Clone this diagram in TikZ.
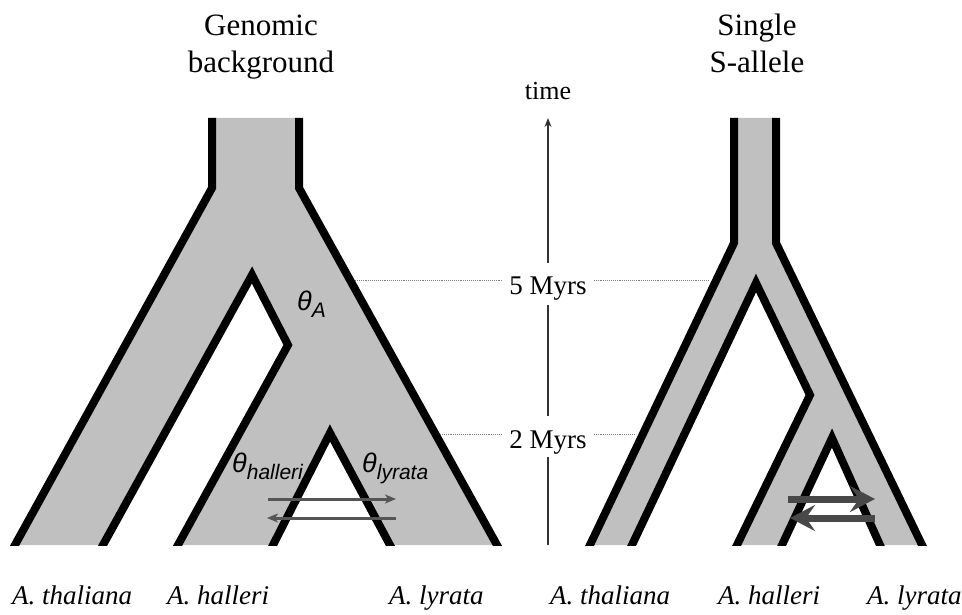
\documentclass[tikz,border=0pt]{standalone}
\usepackage{fontspec}
\setmainfont{Liberation Serif}
\newfontfamily\thetafont{Liberation Sans}
\usepackage{xcolor}
\usetikzlibrary{positioning, arrows.meta}
\definecolor{branchgray}{RGB}{192, 192, 192}
\definecolor{flowgray}{RGB}{85, 85, 85}
\definecolor{axisgray}{RGB}{51, 51, 51}
\newcommand{\thetasub}[1]{θ\raisebox{-0.26em}{\fontsize{21}{21}\selectfont #1}}

\begin{document}
\begin{tikzpicture}[
    x=1pt, y=-1pt,
    treefill/.style={fill=branchgray},
    treeedge/.style={line width=8pt, black, miter limit=10},
    geneflow/.style={-{Stealth[length=11pt, width=9pt, inset=3pt]}, line width=3pt, flowgray},
    bigflow/.style={-{Stealth[length=25pt, width=26pt, inset=9pt]}, line width=7pt, flowgray!85!black},
    timeaxis/.style={line width=1.2pt, axisgray},
    guide/.style={densely dotted, line width=0.9pt, gray},
    title/.style={font=\fontsize{31}{37}\selectfont, anchor=base, inner sep=0pt},
    species/.style={font=\fontsize{27}{32}\selectfont\itshape, anchor=base west, inner sep=0pt},
    myr/.style={font=\fontsize{27}{32}\selectfont, anchor=base, inner xsep=7pt, inner ysep=3pt},
    theta/.style={font=\thetafont\itshape\fontsize{27}{32}\selectfont, anchor=base west, inner sep=0pt}
]
    \useasboundingbox (0,0) rectangle (962,615);

    % Genomic background tree
    \fill[treefill] (212,118) -- (212,188) -- (15,545) -- (103,545) -- (252,275) -- (288,345)
        -- (178,545) -- (273,545) -- (330,433) -- (390,545) -- (497,545) -- (299,188) -- (299,118) -- cycle;

    % Single S-allele tree
    \fill[treefill] (734,118) -- (734,243) -- (590,545) -- (632,545) -- (756,283) -- (810,395)
        -- (737,545) -- (782,545) -- (832,438) -- (880,545) -- (922,545) -- (776,243) -- (776,118) -- cycle;

    % Branch outlines
    \begin{scope}
        \clip (0,0) rectangle (962,545);
        \draw[treeedge] (212,118) -- (212,188) -- (6.7,560);
        \draw[treeedge] (94.7,560) -- (252,275) -- (288,345) -- (169.7,560);
        \draw[treeedge] (265.4,560) -- (330,433) -- (398,560);
        \draw[treeedge] (299,118) -- (299,188) -- (505.3,560);
        \draw[treeedge] (734,118) -- (734,243) -- (582.8,560);
        \draw[treeedge] (624.9,560) -- (756,283) -- (810,395) -- (729.7,560);
        \draw[treeedge] (775,560) -- (832,438) -- (886.7,560);
        \draw[treeedge] (776,118) -- (776,243) -- (929.3,560);
    \end{scope}

    % Migration arrows
    \draw[geneflow] (268,499) -- (396,499);
    \draw[geneflow] (396,518) -- (267,518);
    \draw[bigflow] (788,499) -- (875,499);
    \draw[bigflow] (875,518) -- (790,518);

    % Diversity labels
    \node[theta] (thetaA) at (297,310) {\thetasub{A}};
    \node[theta] (thetahal) at (232,472) {\thetasub{halleri}};
    \node[theta] (thetalyr) at (362,472) {\thetasub{lyrata}};

    % Titles
    \node[title] (genomic) at (261,36) {Genomic};
    \node[title] (backgr) at (261,73) {background};
    \node[title] (single) at (757,36) {Single};
    \node[title] (sallele) at (757,73) {S-allele};

    % Time axis
    \node[font=\fontsize{26}{30}\selectfont, anchor=base, inner sep=0pt] (time) at (548,100) {time};
    \node[myr] (myr5) at (548,294) {5 Myrs};
    \node[myr] (myr2) at (548,448) {2 Myrs};
    \coordinate (axisbot) at (548,545);
    \coordinate (timetip) at (548,118);
    \draw[timeaxis] (axisbot) -- (myr2);
    \draw[timeaxis, shorten <=11pt, shorten >=2pt] (myr2) -- (myr5);
    \draw[timeaxis, -{Stealth[length=9pt, width=7pt]}, shorten <=10pt] (myr5) -- (timetip);

    % Dotted guides
    \coordinate (l5) at (355,280);
    \coordinate (r5) at (708,280);
    \coordinate (l2) at (440,434);
    \coordinate (r2) at (635,434);
    \draw[guide] (l5) -- (l5 -| myr5.west);
    \draw[guide] (myr5.east |- r5) -- (r5);
    \draw[guide] (l2) -- (l2 -| myr2.west);
    \draw[guide] (myr2.east |- r2) -- (r2);

    % Species
    \node[species] (thal1) at (12,604) {A. thaliana};
    \node[species] (hal1) at (167,604) {A. halleri};
    \node[species] (lyr1) at (389,604) {A. lyrata};
    \node[species] (thal2) at (550,604) {A. thaliana};
    \node[species] (hal2) at (718,604) {A. halleri};
    \node[species] (lyr2) at (867,604) {A. lyrata};
\end{tikzpicture}
\end{document}
